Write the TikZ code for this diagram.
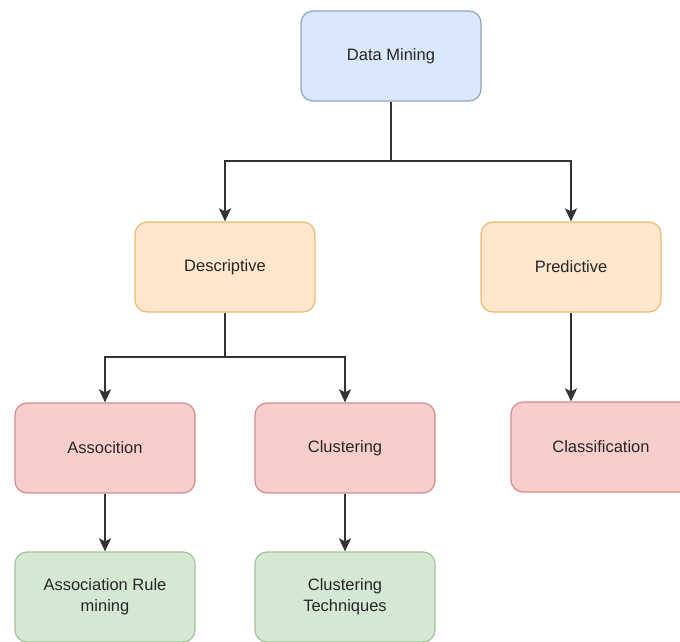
\documentclass[tikz,border=0pt]{standalone}
\usepackage{fontspec}
\setmainfont{Liberation Sans}
\usepackage{tikz}
\usetikzlibrary{arrows.meta}
\definecolor{dmfill}{HTML}{DAE8FC}
\definecolor{dmline}{HTML}{8FA3C4}
\definecolor{ofill}{HTML}{FFE6CC}
\definecolor{oline}{HTML}{E8BC72}
\definecolor{rfill}{HTML}{F8CECC}
\definecolor{rline}{HTML}{D08C8A}
\definecolor{gfill}{HTML}{D5E8D4}
\definecolor{gline}{HTML}{A2C29A}
\definecolor{wire}{HTML}{333333}
\pgfdeclarelayer{edgelayer}
\pgfdeclarelayer{nodelayer}
\pgfsetlayers{edgelayer,nodelayer,main}
\tikzstyle{box}=[rectangle, rounded corners=12pt, line width=1.2pt, minimum width=180pt, minimum height=90pt, align=center, text=black!85, font=\fontsize{16.5}{21}\selectfont]
\tikzstyle{root}=[box, fill=dmfill, draw=dmline]
\tikzstyle{kind}=[box, fill=ofill, draw=oline]
\tikzstyle{task}=[box, fill=rfill, draw=rline]
\tikzstyle{method}=[box, fill=gfill, draw=gline]
\tikzstyle{arrow}=[-{Stealth[length=13pt, width=12pt, inset=3pt]}, draw=wire, line width=2pt]
\tikzstyle{line}=[-, draw=wire, line width=2pt]

\begin{document}
\begin{tikzpicture}[x=1pt, y=-1pt]
            \useasboundingbox (0, 0) rectangle (680, 642);
            \begin{pgfonlayer}{nodelayer}
                \node [style=root] (mining) at (391, 56) {Data Mining};

                \node [style=kind] (descriptive) at (225, 267) {Descriptive};
                \node [style=kind] (predictive) at (571, 267) {Predictive};

                \node [style=task] (assoc) at (105, 448) {Assocition};
                \node [style=task] (clustering) at (345, 448) {Clustering};
                \node [style=task] (classification) at (601, 447) {Classification};

                \node [style=method] (rules) at (105, 597) {Association Rule\\mining};
                \node [style=method] (techniques) at (345, 597) {Clustering\\Techniques};
            \end{pgfonlayer}
            \coordinate (split) at (391, 161);
            \coordinate (branch) at (225, 357);
            \begin{pgfonlayer}{edgelayer}
                \draw [style=line] (mining.south) to (split);
                \draw [style=arrow] (split) -| (descriptive.north);
                \draw [style=arrow] (split) -| (predictive.north);

                \draw [style=line] (descriptive.south) to (branch);
                \draw [style=arrow] (branch) -| (assoc.north);
                \draw [style=arrow] (branch) -| (clustering.north);

                \draw [style=arrow] (predictive.south) to (predictive.south |- classification.north);
                \draw [style=arrow] (assoc.south) to (rules.north);
                \draw [style=arrow] (clustering.south) to (techniques.north);
            \end{pgfonlayer}
        \end{tikzpicture}
\end{document}
